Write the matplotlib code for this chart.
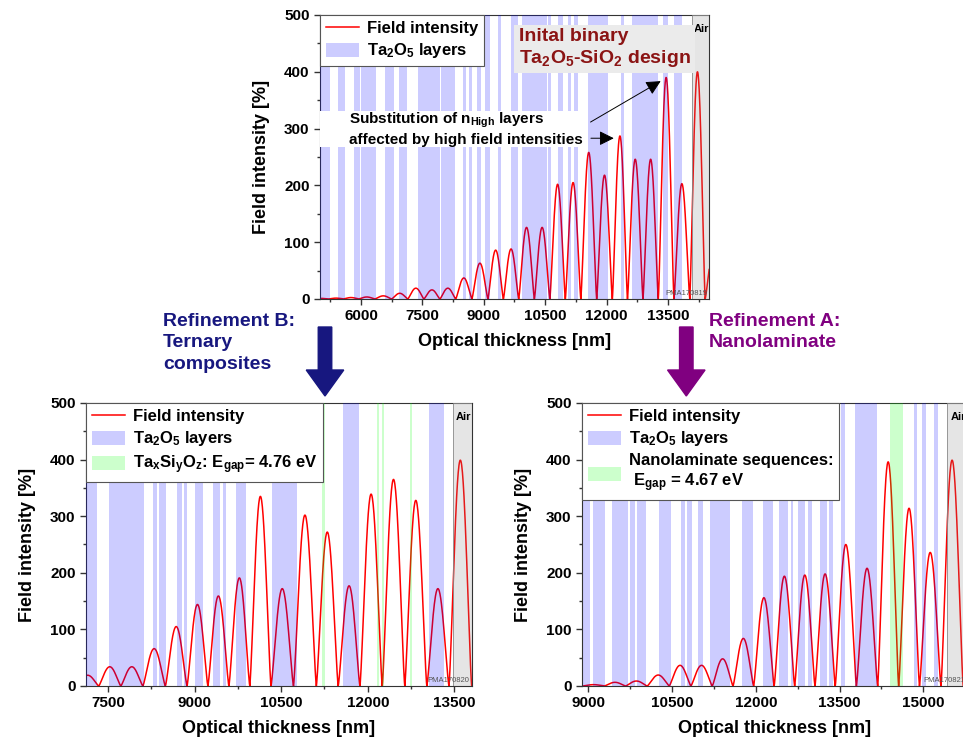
import numpy as np
import matplotlib
matplotlib.use("Agg")
import matplotlib.pyplot as plt
from matplotlib.lines import Line2D
from matplotlib.patches import Patch, Rectangle, FancyArrow
from matplotlib.ticker import MultipleLocator

plt.rcParams['font.family'] = 'Liberation Sans'
plt.rcParams['font.weight'] = 'bold'
plt.rcParams['axes.labelweight'] = 'bold'
plt.rcParams['mathtext.fontset'] = 'custom'
plt.rcParams['mathtext.rm'] = 'Liberation Sans:bold'
plt.rcParams['mathtext.bf'] = 'Liberation Sans:bold'
plt.rcParams['mathtext.it'] = 'Liberation Sans:bold'
plt.rcParams['mathtext.default'] = 'bf'

############################
#% DATA
############################
# field intensity: zero crossings [nm] and the hump height [%] between them
top_zero_x = [4830, 5212, 5570, 5944, 6342, 6750, 7144, 7538, 7929, 8315, 8710, 9101, 9479,
              9853, 10236, 10614, 10992, 11370, 11757, 12140, 12510, 12888, 13263, 13645,
              14031, 14407, 14790]
top_peak = [1, 1.5, 2.5, 3.5, 5.5, 10, 19, 16, 19, 37, 63, 86, 88, 126, 126, 202, 205, 258,
            218, 287, 246, 246, 390, 203, 400, 80]
top_ta2o5 = [(5000, 5240), (5430, 5610), (5820, 5965), (5990, 6365), (6580, 6805), (6930, 7130),
             (7405, 7920), (7960, 8300), (8490, 8570), (8630, 8710), (8840, 8935), (9020, 9150),
             (9345, 9410), (9670, 9840), (9940, 10535), (10575, 10640), (10815, 10940),
             (11060, 11125), (11210, 11305), (11550, 12035), (12350, 12430), (12610, 13260),
             (13375, 13495), (13650, 13830)]
top_air = (14080, 14500)

b_zero_x = [6960, 7340, 7723, 8105, 8495, 8870, 9231, 9595, 9957, 10324, 10714, 11110, 11488,
            11865, 12251, 12641, 13023, 13407, 13800]
b_peak = [19, 34, 34, 66, 105, 144, 159, 191, 335, 172, 302, 272, 177, 339, 365, 328, 172, 399]
b_ta2o5 = [(7100, 7315), (7525, 8125), (8275, 8345), (8390, 8505), (8690, 8780), (8820, 8865),
           (9010, 9155), (9325, 9440), (9490, 9540), (9715, 9895), (10340, 10770),
           (11565, 11840), (13055, 13315)]
b_ternary = [(11205, 11265), (12160, 12200), (12245, 12285), (12725, 12770)]
b_air = (13470, 13800)

a_zero_x = [8510, 8901, 9289, 9670, 10057, 10451, 10839, 11221, 11593, 11962, 12329, 12696,
            13060, 13423, 13802, 14183, 14558, 14931, 15316, 15714]
a_peak = [1, 2.4, 6.5, 8.8, 19.4, 36.5, 36.5, 48, 84, 156, 194, 196, 198, 250, 208, 396, 314,
          236, 399]
a_ta2o5 = [(8915, 9035), (9095, 9305), (9435, 9720), (9750, 9830), (9870, 10030), (10270, 10485),
           (10665, 10735), (10765, 10855), (10975, 11060), (11180, 11540), (11750, 11955),
           (12135, 12315), (12415, 12580), (12630, 12670), (12750, 12880), (12940, 13010),
           (13150, 13270), (13310, 13380), (13535, 13595), (13775, 14165), (14835, 14895),
           (14980, 15055), (15195, 15265)]
a_nanolam = [(14400, 14640)]
a_air = (15425, 15800)

BLUE = (0, 0, 1, 0.2)
GREEN = (0, 1, 0, 0.2)


def field_curve(zeros, peaks, n=60):
    # each hump between two zeros drawn as a smooth arch
    xs, ys = [], []
    for z0, z1, h in zip(zeros[:-1], zeros[1:], peaks):
        t = np.linspace(0, 1, n)
        xs.append(z0 + t * (z1 - z0))
        ys.append(h * np.abs(np.sin(np.pi * t)) ** 1.3)
    return np.concatenate(xs), np.concatenate(ys)


def panel(ax, zeros, peaks, blue, green, air, xlim, tag, green_label=None):
    x, y = field_curve(zeros, peaks)
    ax.plot(x, y, color='red', lw=1.1, zorder=2)
    for s, e in blue:
        ax.axvspan(s, e, color=BLUE, lw=0, zorder=3)
    for s, e in green:
        ax.axvspan(s, e, color=GREEN, lw=0, zorder=3)
    ax.axvspan(air[0], air[1], facecolor=(0.5, 0.5, 0.5, 0.2), edgecolor='#888888', lw=0.6, zorder=3)
    ax.text((air[0] + xlim[1]) / 2 + 20, 475, 'Air', fontsize=8, ha='center', va='center', zorder=6)
    ax.text(xlim[1] - 40, 9, tag, fontsize=5.5, color='#555555', ha='right', va='center',
            fontweight='normal', zorder=6)
    ax.set_xlim(*xlim)
    ax.set_ylim(0, 500)
    ax.xaxis.set_major_locator(MultipleLocator(1500))
    ax.xaxis.set_minor_locator(MultipleLocator(750))
    ax.yaxis.set_major_locator(MultipleLocator(100))
    ax.yaxis.set_minor_locator(MultipleLocator(50))
    ax.tick_params(which='major', direction='out', length=4, width=1, labelsize=11, color='#333333')
    ax.tick_params(which='minor', direction='out', length=2.5, width=1, color='#333333')
    for sp in ax.spines.values():
        sp.set_color('#333333')
    ax.set_xlabel('Optical thickness [nm]', fontsize=13, labelpad=7)
    ax.set_ylabel('Field intensity [%]', fontsize=13, labelpad=10)

    handles = [Line2D([], [], color='red', lw=1.1), Patch(facecolor=BLUE, edgecolor='none')]
    labels = ['Field intensity', 'Ta$_2$O$_5$ layers']
    if green_label:
        handles.append(Patch(facecolor=GREEN, edgecolor='none'))
        labels.append(green_label)
    leg = ax.legend(handles, labels, loc='upper left', bbox_to_anchor=(0, 1), borderaxespad=0,
                    fancybox=False, framealpha=1, edgecolor='#555555', fontsize=12,
                    handlelength=2.0, handleheight=0.9, handletextpad=0.45,
                    labelspacing=0.3, borderpad=0.35)
    leg.get_frame().set_linewidth(0.8)
    leg.set_zorder(7)
    return ax


fig = plt.figure(figsize=(9.63, 7.45), dpi=100)

# --- top: initial binary design
ax1 = fig.add_axes([0.3323, 0.5987, 0.4039, 0.3812])
panel(ax1, top_zero_x, top_peak, top_ta2o5, [], top_air, (5000, 14500), 'PMA170819')
ax1.text(0.511, 0.955, 'Inital binary\nTa$_2$O$_5$-SiO$_2$ design', transform=ax1.transAxes,
         fontsize=14, color='#8b1414', ha='left', va='top', linespacing=1.2, zorder=8,
         bbox=dict(boxstyle='square,pad=0.22', fc='#ebebeb', ec='none'))
ax1.add_patch(Rectangle((0, 0.535), 0.689, 0.127, transform=ax1.transAxes,
                        fc='white', ec='none', zorder=4))
ax1.text(0.075, 0.60, 'Substitution of n$_{High}$ layers\naffected by high field intensities',
         transform=ax1.transAxes, fontsize=11, ha='left', va='center', linespacing=1.3, zorder=6)
ax1.annotate('', xy=(13380, 386), xytext=(11549, 309),
             arrowprops=dict(arrowstyle='-|>', color='black', lw=0.7, mutation_scale=22), zorder=6)
ax1.annotate('', xy=(12243, 283), xytext=(11549, 283),
             arrowprops=dict(arrowstyle='-|>', color='black', lw=0.7, mutation_scale=22), zorder=6)

# --- bottom left: refinement B, ternary composites
ax2 = fig.add_axes([0.0893, 0.0792, 0.4005, 0.3799])
panel(ax2, b_zero_x, b_peak, b_ta2o5, b_ternary, b_air, (7120, 13800), 'PMA170820',
      green_label='Ta$_x$Si$_y$O$_z$: E$_{gap}$= 4.76 eV')

# --- bottom right: refinement A, nanolaminate
ax3 = fig.add_axes([0.6044, 0.0792, 0.4008, 0.3799])
panel(ax3, a_zero_x, a_peak, a_ta2o5, a_nanolam, a_air, (8890, 15800), 'PMA170821',
      green_label='Nanolaminate sequences:\n E$_{gap}$ = 4.67 eV')

# --- refinement captions and arrows
NAVY = '#17177f'
PURPLE = '#800080'
fig.text(163 / 963, 1 - 313 / 745, 'Refinement B:\nTernary\ncomposites', color=NAVY,
         fontsize=14, ha='left', va='top', linespacing=1.33)
fig.text(709 / 963, 1 - 313 / 745, 'Refinement A:\nNanolaminate', color=PURPLE,
         fontsize=14, ha='left', va='top', linespacing=1.33)
for xc, col in [(325 / 963, NAVY), (686.3 / 963, PURPLE)]:
    fig.patches.append(FancyArrow(xc, 1 - 327 / 745, 0, -(396 - 327) / 745,
                                  width=13.5 / 963, head_width=37.5 / 963,
                                  head_length=26 / 745, length_includes_head=True,
                                  color=col, transform=fig.transFigure, figure=fig))

fig.savefig('out.png', dpi=100)
